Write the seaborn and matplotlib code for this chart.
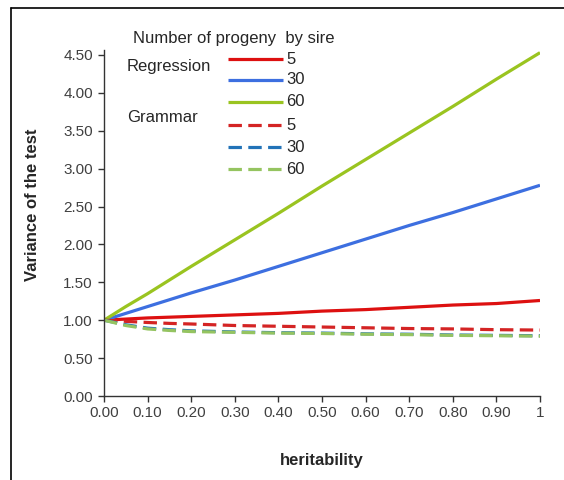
import matplotlib
matplotlib.use("Agg")
import matplotlib.pyplot as plt
from matplotlib.lines import Line2D
import seaborn as sns
import pandas as pd

# ---- data ----
heritability = [0.0, 0.05, 0.10, 0.15, 0.20, 0.30, 0.40, 0.50, 0.60, 0.70, 0.80, 0.90, 1.00]
reg_5 = [1.00, 1.015, 1.03, 1.04, 1.05, 1.07, 1.09, 1.12, 1.14, 1.17, 1.20, 1.22, 1.26]
reg_30 = [1.00, 1.09, 1.18, 1.27, 1.36, 1.53, 1.71, 1.89, 2.07, 2.25, 2.42, 2.60, 2.78]
reg_60 = [1.00, 1.18, 1.35, 1.53, 1.71, 2.06, 2.41, 2.77, 3.12, 3.47, 3.82, 4.18, 4.53]
gram_5 = [1.00, 0.985, 0.97, 0.958, 0.95, 0.93, 0.92, 0.91, 0.90, 0.89, 0.885, 0.875, 0.87]
gram_30 = [1.00, 0.94, 0.895, 0.875, 0.86, 0.845, 0.835, 0.83, 0.82, 0.815, 0.805, 0.80, 0.795]
gram_60 = [1.00, 0.93, 0.885, 0.865, 0.85, 0.84, 0.83, 0.825, 0.815, 0.81, 0.80, 0.795, 0.79]

x_ticks = [0.0, 0.1, 0.2, 0.3, 0.4, 0.5, 0.6, 0.7, 0.8, 0.9, 1.0]
x_tick_labels = ["0.00", "0.10", "0.20", "0.30", "0.40", "0.50", "0.60", "0.70", "0.80", "0.90", "1"]
y_ticks = [0.0, 0.5, 1.0, 1.5, 2.0, 2.5, 3.0, 3.5, 4.0, 4.5]

series = [
    ("Regression", "5", reg_5, "#DD1010", "-"),
    ("Regression", "30", reg_30, "#3D6FE0", "-"),
    ("Regression", "60", reg_60, "#9AC420", "-"),
    ("Grammar", "5", gram_5, "#D42424", "--"),
    ("Grammar", "30", gram_30, "#2273B8", "--"),
    ("Grammar", "60", gram_60, "#95C460", "--"),
]

sns.set_style("white")
plt.rcParams["font.family"] = ["Liberation Sans", "DejaVu Sans"]

fig = plt.figure(figsize=(5.64, 4.8), dpi=100)
ax = fig.add_axes([104 / 564, 1 - 396 / 480, (540 - 104) / 564, (396 - 50) / 480])

lw = 2.3
for method, n, vals, color, ls in series:
    df = pd.DataFrame({"h": heritability, "v": vals})
    sns.lineplot(data=df, x="h", y="v", ax=ax, color=color, linewidth=lw, legend=False)
    l = ax.lines[-1]
    if ls == "--":
        l.set_dashes((4.2, 2.0))
    l.set_solid_capstyle("butt")

ax.set_xlim(0, 1)
ax.set_ylim(0, 4.565)
ax.set_xticks(x_ticks)
ax.set_xticklabels(x_tick_labels)
ax.set_yticks(y_ticks)
ax.set_yticklabels([f"{v:.2f}" for v in y_ticks])
ax.tick_params(axis="both", direction="out", length=4, width=1, colors="#333333",
               labelsize=11, labelcolor="#404040", bottom=True, left=True)
ax.tick_params(axis="x", pad=3)
ax.tick_params(axis="y", pad=4)
for s in ["top", "right"]:
    ax.spines[s].set_visible(False)
for s in ["left", "bottom"]:
    ax.spines[s].set_color("#333333")
    ax.spines[s].set_linewidth(1.0)

ax.set_xlabel("heritability", fontsize=12, fontweight="bold", color="#262626")
ax.set_ylabel("Variance of the test", fontsize=12, fontweight="bold", color="#262626")
ax.xaxis.set_label_coords(0.5, -(461 - 396) / 346, transform=ax.transAxes)
ax.xaxis.label.set_va("center")
ax.yaxis.set_label_coords(-(104 - 33) / 436, (396 - 205) / 346, transform=ax.transAxes)
ax.yaxis.label.set_va("center")

# ---- custom legend ----
W, H = 564, 480
def fx(px):
    return px / W
def fy(py):
    return 1 - py / H

fs = 12
fig.text(fx(133), fy(38), "Number of progeny  by sire", fontsize=fs, color="#262626",
         va="center", ha="left")
fig.text(fx(127), fy(67), "Regression", fontsize=fs, color="#262626", va="center", ha="left")
fig.text(fx(127), fy(117), "Grammar", fontsize=fs, color="#262626", va="center", ha="left")
rows_y = [59, 80, 102, 125, 147, 169]
for (method, n, vals, color, ls), ry in zip(series, rows_y):
    ln = Line2D([fx(228), fx(283)], [fy(ry), fy(ry)], transform=fig.transFigure,
                color=color, linewidth=lw, solid_capstyle="butt")
    if ls == "--":
        ln.set_dashes((4.2, 2.0))
    fig.add_artist(ln)
    fig.text(fx(286), fy(ry), n, fontsize=fs, color="#262626", va="center", ha="left")

# outer frame (left and top edges visible)
fig.add_artist(Line2D([fx(11), fx(11)], [fy(8), 0], transform=fig.transFigure,
                      color="black", linewidth=1.2))
fig.add_artist(Line2D([fx(11), 1], [fy(8), fy(8)], transform=fig.transFigure,
                      color="black", linewidth=1.2))

fig.savefig("out.png", dpi=100, facecolor="white")
